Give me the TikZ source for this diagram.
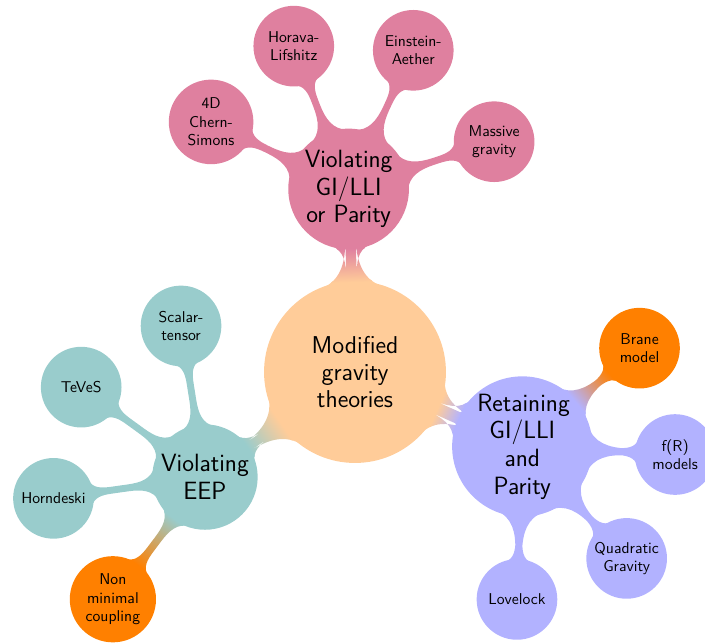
\documentclass[tikz,border=0pt]{standalone}
\usepackage{tikz}
\usetikzlibrary{mindmap}

\tikzset{
  theorybox/.style={minimum size=4cm, text width=3.3cm,
      font=\sffamily\fontsize{15.4}{17}\selectfont},
}

\begin{document}
\begin{tikzpicture}[
    mindmap,
    every concept/.append style={inner sep=0pt},
    level 1 concept/.append style={minimum size=2.3cm, text width=2.0cm,
        font=\sffamily\fontsize{15.8}{17.5}\selectfont},
    level 2 concept/.append style={minimum size=1.75cm, text width=1.5cm,
        font=\sffamily\fontsize{9.9}{11.6}\selectfont},
    level 1/.append style={level distance=4.07cm},
    level 2/.append style={level distance=3.4cm},
  ]
    \def\xMIN{-7.889};
    \def\xMAX{7.778};
    \def\yMIN{-6.044};
    \def\yMAX{8.267};
    \useasboundingbox (\xMIN,\yMIN) rectangle (\xMAX,\yMAX);

    \path[concept color=orange!40, text=black]
      node[concept, theorybox] (theories) {Modified\\gravity\\theories}
      child[grow=92.5, concept color=purple!50] {node[concept] (violgi) {Violating\\GI/LLI\\or Parity}
        child[grow=154] {node[concept] (chern) {4D\\Chern-\\Simons}}
        child[grow=111] {node[concept] (horava) {Horava-\\Lifshitz}}
        child[grow=65] {node[concept] (aether) {Einstein-\\Aether}}
        child[grow=18] {node[concept] (massive) {Massive\\gravity}}
      }
      child[grow=-24.6, concept color=blue!30] {node[concept] (retain) {Retaining\\GI/LLI\\and\\Parity}
        child[grow=40, concept color=orange] {node[concept] (brane) {Brane\\model}}
        child[grow=-3] {node[concept] (fr) {f(R)\\models}}
        child[grow=-47] {node[concept] (quadratic) {Quadratic\\Gravity}}
        child[grow=-92] {node[concept] (lovelock) {Lovelock}}
      }
      child[grow=215, concept color=teal!40] {node[concept] (eep) {Violating\\EEP}
        child[grow=99] {node[concept] (scalar) {Scalar-\\tensor}}
        child[grow=144] {node[concept] (teves) {TeVeS}}
        child[grow=188] {node[concept] (horndeski) {Horndeski}}
        child[grow=233, concept color=orange] {node[concept] (nonminimal) {Non\\minimal\\coupling}}
      };
\end{tikzpicture}
\end{document}
